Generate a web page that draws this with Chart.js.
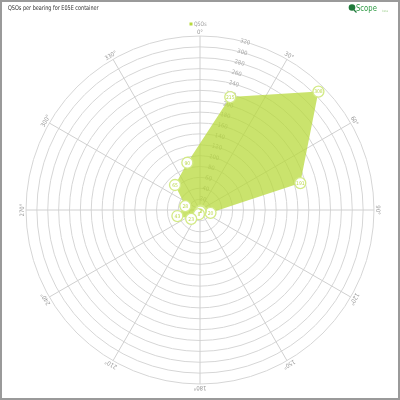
<!DOCTYPE html>
<html>
<head>
<meta charset="utf-8">
<script src="https://cdn.jsdelivr.net/npm/chart.js@4/dist/chart.umd.min.js"></script>
<style>
    html, body { margin: 0; padding: 0; background: #fff; }
    #wrap { position: relative; width: 400px; height: 400px; }
</style>
</head>
<body>
<div id="wrap"><canvas id="chart" width="400" height="400"></canvas></div>
<script>
    // bearings of the data (degrees) and QSO counts
    const bearings = [15, 45, 75, 105, 135, 165, 195, 225, 255, 285, 315, 345];
    const qsos = [215, 308, 191, 20, 2, 3, 8, 23, 43, 28, 65, 90];
    // compass labels drawn between the data bearings
    const compassLabels = ["30°", "60°", "90°", "120°", "150°", "180°", "210°", "240°", "270°", "300°", "330°", "0°"];
    const tickMax = 320;
    const tickStep = 20;

    // 24 slots: even slots hold data, odd slots hold the compass lines
    const labels = [];
    const values = [];
    for (let i = 0; i < bearings.length; i++) {
        labels.push("");
        values.push(qsos[i]);
        labels.push(compassLabels[i]);
        values.push(null);
    }

    const FONT = "'DejaVu Sans Condensed', 'Liberation Sans Narrow', 'DejaVu Sans'";
    const green = "rgba(184, 218, 60, 0.75)";
    const lineGreen = "#d3ea86";
    const textGreen = "#bcd94e";

    // draws narrow text by squeezing it horizontally
    function narrowText(ctx, text, x, y, squeeze) {
        ctx.save();
        ctx.translate(x, y);
        ctx.scale(squeeze, 1);
        ctx.fillText(text, 0, 0);
        ctx.restore();
    }

    const decorations = {
        id: "decorations",
        afterDatasetsDraw(chart) {
            const ctx = chart.ctx;
            const meta = chart.getDatasetMeta(0);
            ctx.save();
            ctx.font = "5px " + FONT;
            ctx.fillStyle = textGreen;
            ctx.textAlign = "center";
            ctx.textBaseline = "middle";
            meta.data.forEach((pt, i) => {
                if (values[i] === null) return;
                ctx.fillText(String(values[i]), pt.x, pt.y + 0.5);
            });
            ctx.restore();
        },
        afterDraw(chart) {
            const ctx = chart.ctx;
            const scale = chart.scales.r;
            ctx.save();
            // rotated compass labels
            ctx.font = "6px " + FONT;
            ctx.fillStyle = "#999";
            ctx.textAlign = "center";
            ctx.textBaseline = "middle";
            labels.forEach((lbl, i) => {
                if (!lbl) return;
                const p = scale.getPointPosition(i, scale.drawingArea + 4);
                ctx.save();
                ctx.translate(p.x, p.y);
                ctx.rotate(p.angle + Math.PI / 2);
                ctx.fillText(lbl, 0, 0);
                ctx.restore();
            });
            // legend
            const ds = chart.data.datasets[0];
            ctx.fillStyle = "#b8da3c";
            ctx.fillRect(189.5, 22.5, 3, 3);
            ctx.textAlign = "left";
            ctx.fillStyle = "#999";
            ctx.font = "6px " + FONT;
            narrowText(ctx, ds.label, 194, 24.5, 0.85);
            // title
            ctx.fillStyle = "#333";
            ctx.font = "6.5px " + FONT;
            narrowText(ctx, "QSOs per bearing for E05E container", 8, 8, 0.84);
            // logo
            ctx.fillStyle = "#1f7a3a";
            ctx.beginPath();
            ctx.arc(352, 7.5, 3.3, 0, Math.PI * 2);
            ctx.fill();
            ctx.strokeStyle = "#1f7a3a";
            ctx.lineWidth = 1.2;
            ctx.beginPath();
            ctx.moveTo(354, 10);
            ctx.lineTo(356.5, 12.5);
            ctx.stroke();
            ctx.fillStyle = "#2e9a44";
            ctx.font = "8px " + FONT;
            narrowText(ctx, "Scope", 356, 8.5, 0.95);
            ctx.fillStyle = "#a8d49a";
            ctx.font = "3px " + FONT;
            ctx.fillText("beta", 382, 11);
            // frame
            ctx.strokeStyle = "#9a9a9a";
            ctx.lineWidth = 2;
            ctx.strokeRect(1, 1, 398, 398);
            ctx.restore();
        }
    };

    new Chart(document.getElementById("chart"), {
        type: "radar",
        data: {
            labels: labels,
            datasets: [{
                label: "QSOs",
                data: values,
                spanGaps: true,
                fill: true,
                backgroundColor: green,
                borderColor: green,
                borderWidth: 0,
                tension: 0,
                pointRadius: 5.5,
                pointHoverRadius: 5.5,
                pointBorderWidth: 1.3,
                pointBorderColor: lineGreen,
                pointBackgroundColor: "#fff"
            }]
        },
        options: {
            responsive: false,
            animation: false,
            events: [],
            layout: { padding: { top: 33, left: 23, right: 23, bottom: 13 } },
            plugins: {
                title: { display: false },
                tooltip: { enabled: false },
                legend: { display: false }
            },
            scales: {
                r: {
                    min: 0,
                    max: tickMax,
                    startAngle: 15,
                    grid: { circular: true, color: "#d6d6d6", lineWidth: 1 },
                    angleLines: {
                        display: true,
                        color: (c) => (c.index % 2 === 1 ? "#d0d0d0" : "rgba(0,0,0,0)"),
                        lineWidth: 1
                    },
                    pointLabels: { display: false },
                    ticks: {
                        stepSize: tickStep,
                        showLabelBackdrop: false,
                        backdropPadding: 0,
                        color: "#aaa",
                        font: { size: 6, family: FONT }
                    }
                }
            }
        },
        plugins: [decorations]
    });
</script>
</body>
</html>
